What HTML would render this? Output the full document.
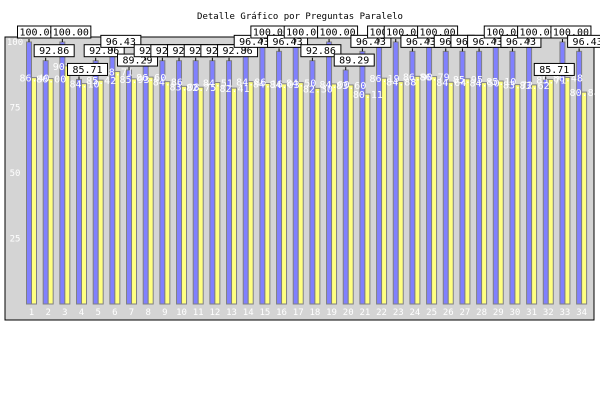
<!DOCTYPE html>
<html><head><meta charset="utf-8"><style>
body{margin:0;background:#fff;}
svg{display:block;font-family:"DejaVu Sans Mono","Liberation Mono",monospace;}
</style></head><body>
<svg id="chart" width="600" height="400" viewBox="0 0 600 400">
<text x="300" y="19" text-anchor="middle" font-size="9">Detalle Gráfico por Preguntas Paralelo</text>
<rect x="5" y="37" width="589" height="283" fill="#d4d4d4" stroke="#000" stroke-width="1"/>
<g id="yaxis"></g>
<g id="bars"></g>
<g id="xaxis"></g>
<g id="labels"></g>
</svg>
<script>
const categories = ["1","2","3","4","5","6","7","8","9","10","11","12","13","14","15","16","17","18","19","20","21","22","23","24","25","26","27","28","29","30","31","32","33","34"];
const seriesA = [100,92.86,100,85.71,92.86,96.43,89.29,92.86,92.86,92.86,92.86,92.86,92.86,96.43,100,96.43,100,92.86,100,89.29,96.43,100,100,96.43,100,96.43,96.43,96.43,100,96.43,100,85.71,100,96.43];
const seriesB = [86.4,86.0,90.9,84.1,85.42,88.71,85.93,86.6,84.86,83.08,82.75,84.51,82.41,84.86,84.16,84.03,84.5,82.3,84.0,83.6,80.11,86.19,84.88,86.9,86.79,84.64,85.95,84.5,85.1,83.72,83.62,85.71,86.48,80.88];
const yTicks = [25,50,75,100];

const NS="http://www.w3.org/2000/svg";
const y0=304, yScale=2.62;
function yPos(v){return y0-v*yScale;}
function xPos(i){return 31.5+i*16.67;}
function mk(tag,attrs,parent){const e=document.createElementNS(NS,tag);for(const k in attrs)e.setAttribute(k,attrs[k]);parent.appendChild(e);return e;}
const yax=document.getElementById('yaxis'),bars=document.getElementById('bars'),xax=document.getElementById('xaxis'),labels=document.getElementById('labels');
yTicks.forEach(t=>{
  const tx=mk('text',{x:15,y:yPos(t)+3,'text-anchor':'middle','font-size':'9',fill:'#fff'},yax);
  
  
  tx.textContent=t;
});
categories.forEach((c,i)=>{
  const cx=xPos(i);
  const a=seriesA[i],b=seriesB[i];
  const ra=mk('rect',{x:cx-5,y:yPos(a),width:5,height:y0-yPos(a),fill:'#8080ff',stroke:'#808080','stroke-width':1},bars);
  
  
  const rb=mk('rect',{x:cx,y:yPos(b),width:5,height:y0-yPos(b),fill:'#ffff80',stroke:'#808080','stroke-width':1},bars);
  
  
  const xl=mk('text',{x:cx,y:315,'text-anchor':'middle','font-size':'9',fill:'#fff'},xax);
  
  
  xl.textContent=c;
  const bl=mk('text',{x:cx+3,y:yPos(b)+4,'text-anchor':'middle','font-size':'10',fill:'#fff'},labels);
  
  
  bl.textContent=b.toFixed(2);
});
categories.forEach((c,i)=>{
  const cx=xPos(i);
  const a=seriesA[i];
  const top=yPos(a);
  const g=mk('g',{},labels);
  
  
  mk('line',{x1:cx-2.5,y1:top-3,x2:cx-2.5,y2:top,stroke:'#000'},g);
  mk('rect',{x:cx-14,y:top-16,width:40,height:12,fill:'#fff',stroke:'#000','stroke-width':1},g);
  const t=mk('text',{x:cx+6,y:top-6.5,'text-anchor':'middle','font-size':'10',fill:'#000'},g);
  t.textContent=a.toFixed(2);
});
</script>
</body></html>
